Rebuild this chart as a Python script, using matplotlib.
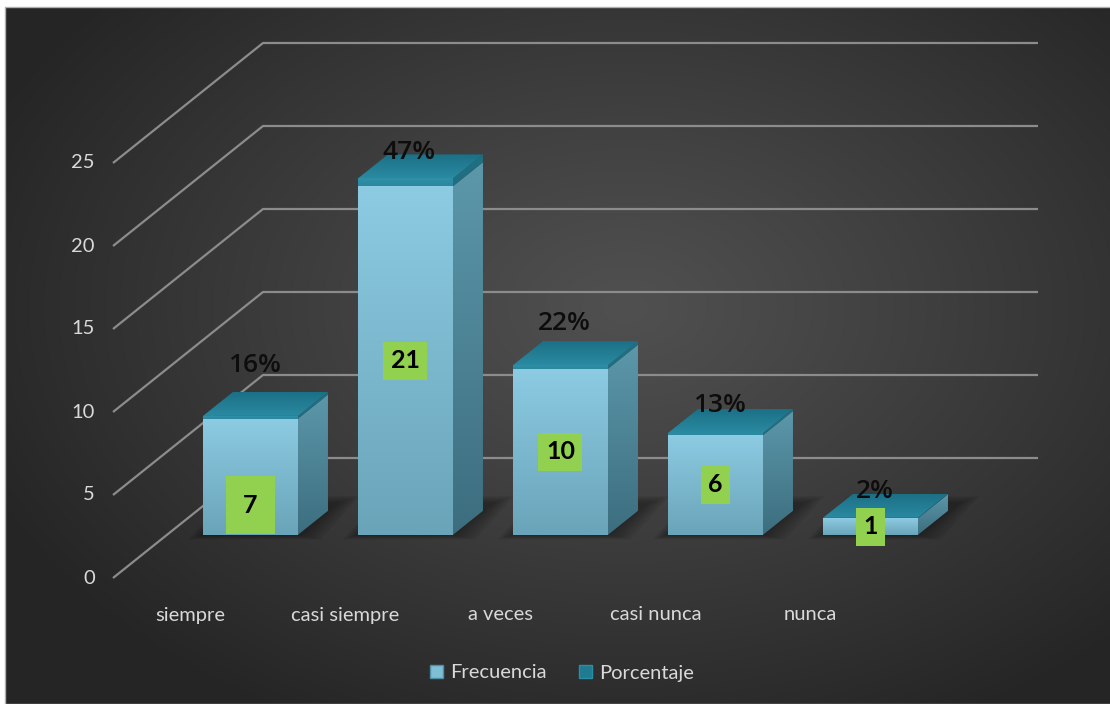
import numpy as np
import matplotlib.pyplot as plt
from matplotlib.patches import Polygon, Patch, Rectangle
from matplotlib.colors import to_rgb

categories = ["siempre", "casi siempre", "a veces", "casi nunca", "nunca"]
frecuencia = [7, 21, 10, 6, 1]
porcentaje = [0.16, 0.47, 0.22, 0.13, 0.02]
pct_labels = ["16%", "47%", "22%", "13%", "2%"]
yticks = [0, 5, 10, 15, 20, 25]

plt.rcParams['font.family'] = ['Lato', 'DejaVu Sans']

W, H = 1110, 704
fig = plt.figure(figsize=(W / 100, H / 100), dpi=100, facecolor='white')

# dark radial background of the chart area
bg = fig.add_axes([5 / W, 0, 1 - 5 / W, (H - 7) / H])
bg.set_axis_off()
yy, xx = np.mgrid[0:H - 7, 0:W - 5]
t = np.sqrt(((xx - 620) / 700.0) ** 2 + ((yy - 300) / 470.0) ** 2)
t = np.clip(t, 0, 1) ** 1.1
c_in, c_out = np.array(to_rgb('#505050')), np.array(to_rgb('#252525'))
img = c_in[None, None, :] * (1 - t[..., None]) + c_out[None, None, :] * t[..., None]
bg.imshow(img, aspect='auto', interpolation='bilinear')
fig.patches.append(Rectangle((4.5 / W, 0), 1, (H - 6.5) / H, transform=fig.transFigure,
                             fill=False, edgecolor='#b0b0b0', lw=1.0))

# plot axes: x in category units, y in value units, with an oblique depth axis
ax = fig.add_axes([0, 0, 1, 1])
ax.patch.set_alpha(0)
ax.set_axis_off()
X0, Y0, CAT, UNIT = 113, 578, 155.0, 16.6
DX, DY = 150 / CAT, 120 / UNIT


def proj(x, v, z):
    return (x + z * DX, v + z * DY)


def grad_poly(verts, top, bottom, zorder):
    poly = Polygon(verts, closed=True, facecolor='none', edgecolor='none', zorder=zorder)
    ax.add_patch(poly)
    xs, ys = zip(*verts)
    c1, c2 = np.array(to_rgb(top)), np.array(to_rgb(bottom))
    g = np.linspace(0, 1, 64)[:, None, None]
    arr = np.repeat(c1 * (1 - g) + c2 * g, 2, axis=1)
    im = ax.imshow(arr, extent=(min(xs), max(xs), min(ys), max(ys)), origin='upper',
                   aspect='auto', interpolation='bilinear', zorder=zorder)
    im.set_clip_path(poly)


# back-wall and side-wall gridlines
for v in yticks:
    fx, fy = proj(0, v, 0)
    bx, by = proj(0, v, 1)
    ex, ey = proj(len(categories), v, 1)
    ax.plot([fx, bx, ex], [fy, by, ey], color='#8c8c8c', lw=1.6, zorder=1,
            solid_capstyle='butt')
    ax.annotate(str(v), xy=(fx, fy), xytext=(-18, 0), textcoords='offset pixels',
                ha='right', va='center', color='#d9d9d9', fontsize=14.5)

z0, z1 = 0.36, 0.56
bar_w, bar_off = 0.613, 0.232
label_nudge = [50, 26, 42, 28, 26]
for i, (f, p) in enumerate(zip(frecuencia, porcentaje)):
    x0 = i + bar_off
    x1 = x0 + bar_w
    top = f + p

    # soft floor shadow
    for k in range(6):
        e = (6 - k) * 2.5
        sx, sv = e / CAT, e / UNIT
        shadow = [proj(x0 - sx, -sv * 0.3, z0), proj(x1 + sx * 1.5, -sv * 0.3, z0),
                  proj(x1 + sx * 1.5, sv * 0.5, z1 + 0.06), proj(x0 - sx, sv * 0.5, z1 + 0.06)]
        ax.add_patch(Polygon(shadow, closed=True, facecolor='black', alpha=0.06,
                             edgecolor='none', zorder=2))

    # front faces
    grad_poly([proj(x0, 0, z0), proj(x1, 0, z0), proj(x1, f, z0), proj(x0, f, z0)],
              '#8ccbe2', '#6aa4b9', 3)
    grad_poly([proj(x0, f, z0), proj(x1, f, z0), proj(x1, top, z0), proj(x0, top, z0)],
              '#2f90a8', '#2a879e', 3)
    # side faces
    grad_poly([proj(x1, 0, z0), proj(x1, 0, z1), proj(x1, f, z1), proj(x1, f, z0)],
              '#5c97aa', '#3c6e7f', 3)
    grad_poly([proj(x1, f, z0), proj(x1, f, z1), proj(x1, top, z1), proj(x1, top, z0)],
              '#1f6f83', '#1f6f83', 3)
    # top face
    grad_poly([proj(x0, top, z0), proj(x1, top, z0), proj(x1, top, z1), proj(x0, top, z1)],
              '#1b7086', '#2a8aa1', 3)

    xc = (x0 + x1) / 2
    # frequency label in a green box
    if i == 0:
        ax.annotate(str(f), xy=proj(xc, 0, z0), xytext=(0, 18), textcoords='offset pixels',
                    ha='center', va='bottom', fontsize=18, fontweight='bold', color='black',
                    bbox=dict(boxstyle='square,pad=0.7', facecolor='#92d050', edgecolor='none'),
                    zorder=6)
    else:
        ax.annotate(str(f), xy=proj(xc, f / 2, z0), ha='center', va='center',
                    fontsize=18, fontweight='bold', color='black',
                    bbox=dict(boxstyle='square,pad=0.3', facecolor='#92d050', edgecolor='none'),
                    zorder=6)
    # percentage label above the column
    ax.annotate(pct_labels[i], xy=proj(xc, top, z0), xytext=(4, label_nudge[i]),
                textcoords='offset pixels', ha='center', va='center',
                fontsize=19, fontweight='semibold', color='#0d0d0d', zorder=7,
                family=['Open Sans', 'DejaVu Sans'])

# category labels on the front edge of the floor
for i, cat in enumerate(categories):
    ax.annotate(cat, xy=proj(i + 0.5, 0, 0), xytext=(0, -37), textcoords='offset pixels',
                ha='center', va='center', color='#d9d9d9', fontsize=14.5)

ax.set_xlim(-X0 / CAT, (W - X0) / CAT)
ax.set_ylim((Y0 - H) / UNIT, Y0 / UNIT)

handles = [Patch(facecolor='#7fbfd6', edgecolor='#4f8ea3', label='Frecuencia'),
           Patch(facecolor='#1f7b91', edgecolor='#2a8ea5', label='Porcentaje')]
fig.legend(handles=handles, loc='center', bbox_to_anchor=(562 / W, 1 - 673 / H), ncol=2,
           frameon=False, fontsize=14.5, labelcolor='#d9d9d9', handlelength=0.65,
           handleheight=0.65, handletextpad=0.35, columnspacing=1.6)

fig.savefig('out.png', dpi=100, facecolor='white')
